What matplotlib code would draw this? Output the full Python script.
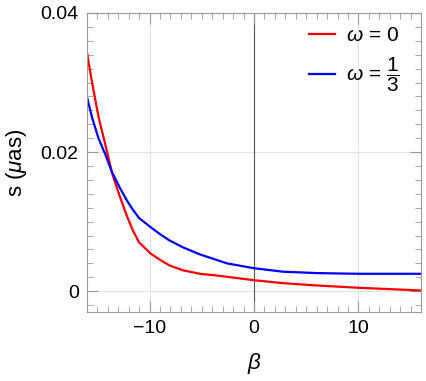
import matplotlib
matplotlib.use("Agg")
import matplotlib.pyplot as plt
from matplotlib.ticker import MultipleLocator

plt.rcParams["font.family"] = ["Liberation Sans", "DejaVu Sans"]
plt.rcParams["mathtext.fontset"] = "custom"
plt.rcParams["mathtext.rm"] = "Liberation Sans"
plt.rcParams["mathtext.it"] = "Liberation Sans:italic"

# values
beta = [-16, -15.5, -14.9, -14.2, -13.6, -12.9, -12.2, -11.6, -11.0, -9.9,
        -9.0, -8.1, -6.8, -5.2, -3.6, -2.6, 0, 2.8, 6, 10, 16]
s_omega0 = [0.0343, 0.0299, 0.0251, 0.0208, 0.0170, 0.0138, 0.0109, 0.0087,
            0.0070, 0.0054, 0.0045, 0.0037, 0.0030, 0.00250, 0.00226, 0.00207,
            0.00158, 0.00115, 0.00082, 0.00049, 0.0001]
s_omega13 = [0.0279, 0.0249, 0.0220, 0.0195, 0.0171, 0.0150, 0.0131, 0.0117,
             0.0105, 0.0092, 0.0082, 0.0073, 0.0063, 0.0053, 0.0045, 0.0040,
             0.0033, 0.0028, 0.0026, 0.0025, 0.0025]

xticks = [-10, 0, 10]
xticklabels = ["\u221210", "0", "10"]
yticks = [0, 0.02, 0.04]
yticklabels = ["0", "0.02", "0.04"]

fig = plt.figure(figsize=(4.26, 3.81), dpi=100)
ax = fig.add_axes([0.2042, 0.181, 0.7841, 0.7849])

ax.plot(beta, s_omega0, color="#ff0000", lw=1.6, solid_joinstyle="round",
        label=r"$\omega$ = 0")
ax.plot(beta, s_omega13, color="#0000ff", lw=1.6, solid_joinstyle="round",
        label=r"$\omega$ = $\dfrac{1}{3}$")

ax.set_xlim(-16, 16)
ax.set_ylim(-0.003, 0.04)
ax.axvline(0, color="#555555", lw=0.8, zorder=1)
for x in [-10, 10]:
    ax.axvline(x, color="#e3e3e3", lw=0.8, zorder=0)
for y in [0, 0.02]:
    ax.axhline(y, color="#e3e3e3", lw=0.8, zorder=0)

ax.set_xticks(xticks, xticklabels)
ax.set_yticks(yticks, yticklabels)
ax.xaxis.set_minor_locator(MultipleLocator(1))
ax.yaxis.set_minor_locator(MultipleLocator(0.002))
ax.tick_params(which="both", direction="in", top=True, right=True,
               color="#999999", labelsize=14, pad=6)
ax.tick_params(which="major", length=8, width=0.8)
ax.tick_params(which="minor", length=4, width=0.6)
for sp in ax.spines.values():
    sp.set_color("#999999")
    sp.set_linewidth(0.8)

ax.set_xlabel(r"$\beta$", fontsize=16, labelpad=10)
ax.set_ylabel(r"s ($\mu$as)", fontsize=16, labelpad=8)

ax.legend(loc="upper right", bbox_to_anchor=(0.98, 1.005), frameon=False,
          fontsize=15, handlelength=1.25, labelspacing=0.5,
          handletextpad=0.55, borderaxespad=0.3)

fig.savefig("out.png", dpi=100)
